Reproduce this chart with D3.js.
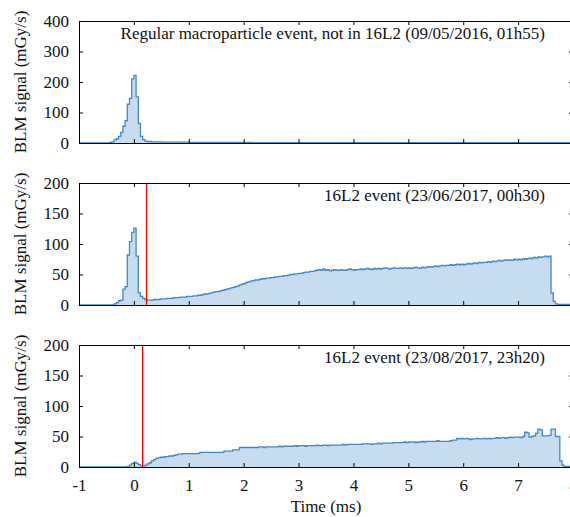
<!DOCTYPE html>
<html>
<head>
<meta charset="utf-8">
<script src="https://cdn.jsdelivr.net/npm/d3@7"></script>
<style>
  html, body { margin: 0; padding: 0; background: #fff; }
  svg { display: block; }
  text { font-family: "Liberation Serif", "Times New Roman", serif; fill: #111; }
</style>
</head>
<body>
<svg id="chart" width="570" height="517"></svg>
<script>
// ---- data ----
const binStart = -1;      // ms, left edge of first bin
const binWidth = 0.04;    // ms
const xTicks = [-1, 0, 1, 2, 3, 4, 5, 6, 7, 8];
const yTicks1 = [0, 100, 200, 300, 400];
const yTicks23 = [0, 50, 100, 150, 200];
const titles = [
  "Regular macroparticle event, not in 16L2 (09/05/2016, 01h55)",
  "16L2 event (23/06/2017, 00h30)",
  "16L2 event (23/08/2017, 23h20)"
];
const yMax = [400, 200, 200];
const redLine = [null, 0.23, 0.16];

// panel 1: regular UFO (bins of 0.04 ms, from -1 ms)
const signal1 = [
  // [-1,0)
  0,0,0,0,0,0,0,0,0,0, 0,0,0,0,2,4,10,14,22,35, 55,73,127,146,210,
  // [0,1)
  222,151,64,22,11,6,5,5,4,4, 4,4,4,3,3,3,3,3,3,3, 3,3,3,3,3,
  // [1,2)
  2,2,2,2,2,2,2,2,2,2, 2,2,2,2,2,2,2,2,2,2, 2,2,2,2,2,
  // [2,3)
  2,2,2,2,1,1,1,1,1,1, 1,1,1,1,1,1,1,1,1,1, 1,1,1,1,1,
  // [3,4)
  1,1,1,1,1,1,1,1,1,1, 1,1,1,1,1,1,1,1,1,1, 1,1,1,1,1,
  // [4,5)
  1,1,1,1,1,1,1,1,1,1, 1,1,1,1,1,1,1,1,1,1, 1,1,1,1,1,
  // [5,6)
  1,1,1,1,1,1,1,1,1,1, 1,1,1,1,1,1,1,1,1,1, 1,1,1,1,1,
  // [6,7)
  1,1,1,1,1,1,1,1,1,1, 1,1,1,1,1,1,1,1,1,1, 1,1,1,1,1,
  // [7,8)
  1,1,1,1,1,1,1,1,1,1, 1,1,1,1,1,1,1,1,1,1, 1,1,1,1,1
];

// panel 2: 16L2 event 23/06/2017
const signal2 = [
  // [-1,0)
  0,0,0,0,0,0,0,0,0,0, 0,0,0,0,0,0,2,4,7,8, 26,30,82,104,119,
  // [0,1)
  126,80,20,14,11,9,8,8,8,9, 9,9,10,10,10,11,11,11,12,12, 12,13,13,13,14,
  // [1,2)
  14,14,15,15,16,16,17,18,18,19, 20,21,22,22,23,24,25,26,27,28, 29,30,31,33,34,
  // [2,3)
  35,37,38,39,40,41,41,42,43,43, 44,44,45,45,46,46,47,47,48,48, 49,50,50,51,51,
  // [3,4)
  52,52,53,54,54,55,55,56,57,58, 57,59,57,58,56,57,58,57,57,58, 57,57,58,59,58,
  // [4,5)
  57,58,58,59,58,59,60,59,58,60, 59,60,59,60,61,60,59,60,61,60, 60,61,60,61,60,
  // [5,6)
  61,60,61,62,61,60,62,61,62,63, 62,63,64,63,64,65,64,65,65,66, 65,66,67,66,67,
  // [6,7)
  66,67,68,67,68,69,68,70,69,70, 70,71,70,72,71,72,73,72,73,74, 73,74,73,75,74,
  // [7,8)
  75,74,76,75,76,77,76,78,77,79, 78,79,80,79,80,20,6,2,1,1, 1,1,1,1,1
];

// panel 3: 16L2 event 23/08/2017
const signal3 = [
  // [-1,0)
  0,0,0,0,0,0,0,0,0,0, 0,0,0,0,0,0,0,0,0,0, 0,0,1,3,6,
  // [0,1)
  8,6,4,2,2,3,5,7,10,12, 14,15,16,16,17,17,18,18,19,20, 21,21,22,22,22,
  // [1,2)
  22,22,22,22,22,24,24,24,24,24, 24,24,24,24,24,24,26,26,26,26, 28,28,28,32,32,
  // [2,3)
  32,32,32,32,32,32,32,33,33,32, 33,33,33,33,33,33,34,33,34,34, 34,34,34,35,34,
  // [3,4)
  35,35,35,34,35,35,35,35,36,35, 35,36,36,35,36,36,36,36,36,36, 37,36,37,37,37,
  // [4,5)
  37,37,37,37,38,38,38,38,37,38, 38,39,38,39,39,39,39,39,40,40, 40,40,40,41,40,
  // [5,6)
  41,41,41,40,41,41,42,41,42,42, 42,42,42,43,42,42,42,42,42,43, 44,44,47,46,47,
  // [6,7)
  46,47,46,45,46,46,47,46,46,47, 46,47,46,47,47,48,47,48,48,47, 48,49,48,49,49,
  // [7,8)
  49,48,50,57,56,49,50,51,55,62, 61,51,51,51,52,62,62,50,50,10, 3,1,1,1,1
];

const series = [signal1, signal2, signal3];

// ---- layout ----
const svg = d3.select("#chart");
const plotLeft = 79, plotRight = 573;
const panelTops = [21, 183, 345];
const panelH = 122;
const tickLen = 4;
const fontSize = 17;

const x = d3.scaleLinear().domain([-1, 8]).range([plotLeft, plotRight]);
const defs = svg.append("defs");

series.forEach((vals, p) => {
  const top = panelTops[p];
  const y = d3.scaleLinear().domain([0, yMax[p]]).range([top + panelH, top]);
  const g = svg.append("g");

  const cid = "clip" + p;
  defs.append("clipPath").attr("id", cid)
    .append("rect").attr("x", plotLeft).attr("y", top)
    .attr("width", plotRight - plotLeft).attr("height", panelH);

  // step points (bin left edges + final right edge)
  const pts = vals.map((v, i) => [binStart + i * binWidth, v]);
  pts.push([binStart + vals.length * binWidth, vals[vals.length - 1]]);

  const area = d3.area()
    .x(d => x(d[0])).y0(y(0)).y1(d => y(d[1]))
    .curve(d3.curveStepAfter);
  const line = d3.line()
    .x(d => x(d[0])).y(d => y(d[1]))
    .curve(d3.curveStepAfter);

  const dg = g.append("g").attr("clip-path", `url(#${cid})`);
  dg.append("path").datum(pts).attr("d", area)
    .attr("fill", "#c8dcef").attr("stroke", "none");
  dg.append("path").datum(pts).attr("d", line)
    .attr("fill", "none").attr("stroke", "#4287cc").attr("stroke-width", 1.3)
    .attr("stroke-linejoin", "miter");

  if (redLine[p] !== null) {
    g.append("line")
      .attr("x1", x(redLine[p])).attr("x2", x(redLine[p]))
      .attr("y1", top).attr("y2", top + panelH)
      .attr("stroke", "#ff0000").attr("stroke-width", 1.3);
  }

  // axes (inward ticks) on all four sides
  const yt = p === 0 ? yTicks1 : yTicks23;
  const axL = g.append("g").attr("transform", `translate(${plotLeft},0)`)
    .call(d3.axisLeft(y).tickValues(yt).tickSize(-tickLen).tickPadding(10).tickFormat(d => String(d)));
  const axR = g.append("g").attr("transform", `translate(${plotRight},0)`)
    .call(d3.axisRight(y).tickValues(yt).tickSize(-tickLen).tickFormat(""));
  const axT = g.append("g").attr("transform", `translate(0,${top})`)
    .call(d3.axisTop(x).tickValues(xTicks).tickSize(-tickLen).tickFormat(""));
  const axB = g.append("g").attr("transform", `translate(0,${top + panelH})`)
    .call(d3.axisBottom(x).tickValues(xTicks).tickSize(-tickLen).tickPadding(12)
      .tickFormat(p === 2 ? (d => String(d)) : ""));
  [axL, axR, axT, axB].forEach(a => {
    a.select(".domain").attr("stroke", "#000").attr("stroke-width", 1);
    a.selectAll(".tick line").attr("stroke", "#000");
    a.selectAll("text").attr("font-size", fontSize)
      .attr("font-family", '"Liberation Serif", "Times New Roman", serif')
      .attr("fill", "#111");
  });

  // panel title
  g.append("text")
    .attr("x", 545).attr("y", top + 18)
    .attr("text-anchor", "end").attr("font-size", fontSize)
    .text(titles[p]);

  // y-axis label
  g.append("text")
    .attr("transform", `translate(26,${top + panelH / 2}) rotate(-90)`)
    .attr("text-anchor", "middle").attr("font-size", fontSize)
    .text("BLM signal (mGy/s)");
});

svg.append("text")
  .attr("x", (plotLeft + plotRight) / 2).attr("y", 512)
  .attr("text-anchor", "middle").attr("font-size", fontSize)
  .text("Time (ms)");
</script>
</body>
</html>
